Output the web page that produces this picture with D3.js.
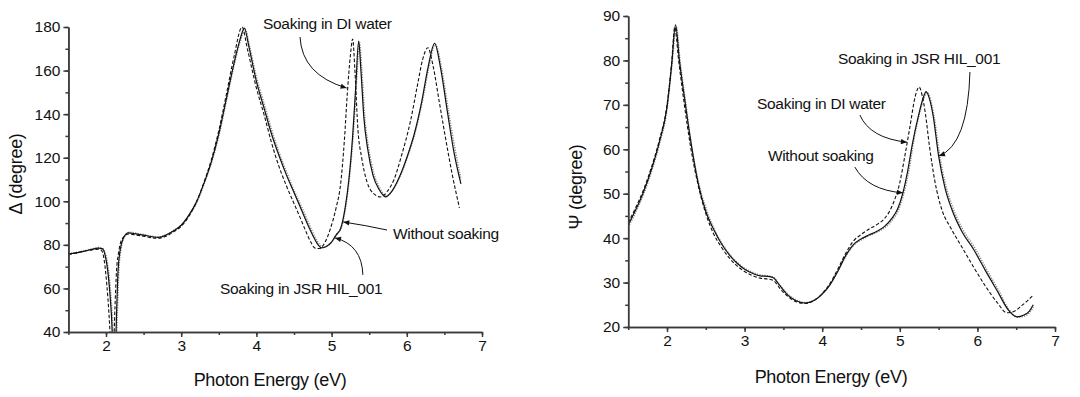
<!DOCTYPE html>
<html>
<head>
<meta charset="utf-8">
<script src="https://cdn.jsdelivr.net/npm/d3@7"></script>
<style>
  body { margin: 0; background: #fff; }
  text { font-family: Arial, "Liberation Sans", sans-serif; fill: #111; }
</style>
</head>
<body>
<svg id="chart" width="1080" height="397"></svg>
<script>
// values (photon energy in eV, angles in degree)

// left panel: delta
var dNoSoakE = [1.5, 1.6, 1.7, 1.8, 1.9, 1.95, 1.99, 2.03, 2.06, 2.08, 2.1, 2.12, 2.14, 2.16, 2.19, 2.23, 2.3, 2.4, 2.5, 2.6, 2.7, 2.8, 2.9, 3.0, 3.1, 3.2, 3.3, 3.4, 3.5, 3.6, 3.7, 3.78, 3.84, 3.9, 4.0, 4.1, 4.2, 4.3, 4.4, 4.5, 4.6, 4.7, 4.77, 4.82, 4.87, 4.93, 5.0, 5.06, 5.12, 5.18, 5.23, 5.28, 5.32, 5.36, 5.39, 5.43, 5.48, 5.55, 5.63, 5.72, 5.8, 5.9, 6.0, 6.1, 6.2, 6.28, 6.37, 6.45, 6.54, 6.63, 6.72];
var dNoSoak  = [75.8, 76.3, 77, 77.8, 78.5, 78.3, 75, 66, 54, 42, 15, 25, 48, 68, 78, 83, 85.5, 85, 84.5, 83.8, 83.4, 84.5, 86.5, 89, 93.5, 99.5, 108, 118, 131, 147, 163, 174, 179.5, 171, 155, 143, 131, 121, 112, 104, 96, 88, 83, 80, 78.6, 79.2, 81.3, 84.5, 87.5, 97, 110, 130, 152, 173.5, 160, 138, 124, 112, 105.5, 102, 104.5, 111, 120, 131, 146, 161, 172.5, 161, 141, 122, 108];

var dWaterE = [1.5, 1.6, 1.7, 1.8, 1.9, 1.94, 1.98, 2.01, 2.04, 2.06, 2.08, 2.1, 2.12, 2.14, 2.17, 2.21, 2.3, 2.4, 2.5, 2.6, 2.7, 2.8, 2.9, 3.0, 3.1, 3.2, 3.3, 3.4, 3.5, 3.6, 3.7, 3.81, 3.88, 4.0, 4.1, 4.2, 4.3, 4.4, 4.5, 4.6, 4.66, 4.72, 4.78, 4.84, 4.91, 4.98, 5.06, 5.12, 5.17, 5.21, 5.25, 5.28, 5.31, 5.35, 5.4, 5.47, 5.56, 5.65, 5.74, 5.83, 5.93, 6.05, 6.14, 6.21, 6.28, 6.35, 6.43, 6.5, 6.6, 6.7];
var dWater  = [75.5, 76.2, 77, 77.6, 78, 77.5, 72, 62, 48, 35, 15, 30, 52, 68, 77, 82.5, 85, 84.5, 84, 83.3, 83, 84, 86, 88.5, 93, 99.5, 108.5, 119, 132.5, 149, 166, 180, 170, 152, 140, 127, 116, 107, 99, 91, 86, 81.5, 78.5, 78.3, 81, 87, 97, 108, 128, 150, 167, 174.5, 160, 133, 120, 109, 103.5, 102, 104.5, 110, 121, 137, 153, 165, 170.5, 162, 146, 132, 113, 97];

var dJsrE = [1.5, 1.6, 1.7, 1.8, 1.9, 1.96, 2.0, 2.04, 2.07, 2.09, 2.11, 2.13, 2.15, 2.17, 2.2, 2.24, 2.31, 2.4, 2.5, 2.6, 2.7, 2.8, 2.9, 3.0, 3.1, 3.2, 3.3, 3.4, 3.5, 3.6, 3.7, 3.79, 3.85, 3.91, 4.0, 4.1, 4.2, 4.3, 4.4, 4.5, 4.6, 4.7, 4.78, 4.83, 4.88, 4.94, 5.01, 5.07, 5.13, 5.19, 5.24, 5.29, 5.33, 5.37, 5.4, 5.44, 5.49, 5.56, 5.64, 5.73, 5.81, 5.91, 6.01, 6.11, 6.21, 6.29, 6.38, 6.46, 6.55, 6.64, 6.72];
var dJsr  = [76, 76.5, 77.2, 78, 78.8, 78.2, 75, 66, 54, 42, 15, 25, 48, 68, 78, 83.5, 85.8, 85.3, 84.7, 84, 83.6, 84.6, 86.6, 89, 93.3, 99, 107.5, 117.5, 130, 146, 162, 174, 179, 171, 157, 145, 133, 122.5, 113.5, 105, 97.5, 89.5, 83.5, 80.5, 79, 79.6, 81.8, 85, 88, 98, 112, 132, 154, 173, 161, 139, 125, 113, 106, 102.5, 105, 111.5, 120.5, 131.5, 146.5, 161, 172, 161.5, 142, 124, 110];

// right panel: psi
var pNoSoakE = [1.5, 1.6, 1.7, 1.8, 1.9, 2.0, 2.06, 2.11, 2.16, 2.23, 2.3, 2.4, 2.5, 2.6, 2.7, 2.8, 2.9, 3.0, 3.1, 3.2, 3.3, 3.37, 3.45, 3.55, 3.65, 3.78, 3.9, 4.0, 4.1, 4.2, 4.3, 4.4, 4.5, 4.6, 4.7, 4.8, 4.9, 4.97, 5.04, 5.1, 5.16, 5.24, 5.3, 5.34, 5.38, 5.43, 5.5, 5.58, 5.67, 5.8, 5.95, 6.1, 6.26, 6.4, 6.51, 6.6, 6.67, 6.72];
var pNoSoak  = [43, 46.5, 50.5, 55.5, 61.5, 69.5, 79, 88, 80, 71, 62.5, 52.5, 46, 42, 38.8, 36.3, 34.4, 33, 32.1, 31.5, 31.4, 31.1, 29.4, 27.3, 26, 25.4, 26, 27.4, 29.5, 32.5, 36, 38.5, 39.8, 40.7, 41.5, 42.6, 44.5, 46.5, 50.2, 55, 61, 67.5, 71.5, 73, 71.5, 67.5, 58.5, 51.5, 46.5, 41.5, 37.5, 32.8, 28, 23.8, 22.3, 22.7, 23.6, 25];

var pWaterE = [1.5, 1.6, 1.7, 1.8, 1.9, 2.0, 2.06, 2.1, 2.15, 2.22, 2.3, 2.4, 2.5, 2.6, 2.7, 2.8, 2.9, 3.0, 3.1, 3.2, 3.3, 3.37, 3.45, 3.55, 3.65, 3.78, 3.9, 4.0, 4.1, 4.2, 4.3, 4.4, 4.5, 4.6, 4.7, 4.78, 4.86, 4.93, 5.0, 5.06, 5.13, 5.2, 5.25, 5.29, 5.33, 5.38, 5.45, 5.55, 5.65, 5.8, 5.95, 6.1, 6.26, 6.38, 6.47, 6.57, 6.65, 6.72];
var pWater  = [43.5, 47, 51, 56, 62, 70, 79.5, 87.5, 80, 70.5, 61, 52, 45.5, 41, 38, 35.6, 33.8, 32.5, 31.6, 31, 30.8, 30.5, 28.8, 27, 25.8, 25.3, 26, 27.5, 29.8, 33, 36.5, 39.3, 40.8, 42, 43, 44, 45.8, 48.5, 52.5, 58, 65, 72, 74, 72, 68, 61, 53, 46, 42.5, 38, 33.5, 29.3, 25.4, 23.2, 23.5, 24.8, 26, 27.2];

var pJsrE = [1.5, 1.6, 1.7, 1.8, 1.9, 2.0, 2.06, 2.12, 2.17, 2.24, 2.31, 2.4, 2.5, 2.6, 2.7, 2.8, 2.9, 3.0, 3.1, 3.2, 3.3, 3.37, 3.45, 3.55, 3.65, 3.78, 3.9, 4.0, 4.1, 4.2, 4.3, 4.4, 4.5, 4.6, 4.7, 4.8, 4.9, 4.98, 5.05, 5.12, 5.18, 5.25, 5.31, 5.35, 5.39, 5.44, 5.51, 5.59, 5.68, 5.81, 5.96, 6.11, 6.27, 6.41, 6.52, 6.61, 6.67, 6.72];
var pJsr  = [42.5, 46, 50, 55, 61, 69, 78.5, 87.5, 79.5, 70.5, 61.5, 53, 46.8, 42.3, 39, 36.5, 34.6, 33.2, 32.3, 31.7, 31.5, 31.2, 29.5, 27.5, 26.2, 25.5, 26.1, 27.5, 29.6, 32.6, 35.8, 38.3, 39.6, 40.5, 41.3, 42.3, 44, 46.2, 50, 55.5, 62, 67.8, 71.5, 72.8, 71.5, 67.5, 59, 52, 47, 42, 38, 33.2, 28.3, 23.8, 22.2, 22.5, 23.2, 24.5];

var xTicks = [2, 3, 4, 5, 6, 7];
var dTicks = [40, 60, 80, 100, 120, 140, 160, 180];
var pTicks = [20, 30, 40, 50, 60, 70, 80, 90];

var svg = d3.select('#chart');

// arrow head
svg.append('defs').append('marker')
  .attr('id', 'head')
  .attr('viewBox', '0 -4 8 8')
  .attr('refX', 8).attr('refY', 0)
  .attr('markerWidth', 7).attr('markerHeight', 6)
  .attr('markerUnits', 'userSpaceOnUse')
  .attr('orient', 'auto')
  .append('path').attr('d', 'M0,-3.5L8,0L0,3.5Z').attr('fill', '#111');

var styles = {
  noSoak: { stroke: '#111', width: 1.2, dash: null },
  water:  { stroke: '#111', width: 1.1, dash: '3.5,2' },
  jsr:    { stroke: '#8a8a8a', width: 1.6, dash: '1.2,1.3' }
};

function zip(xs, ys) {
  return xs.map(function(x, i) { return [x, ys[i]]; });
}

function drawPanel(p) {
  var x = d3.scaleLinear().domain([1.5, 7]).range([p.left, p.right]);
  var y = d3.scaleLinear().domain(p.yDomain).range([p.bottom, p.top]);
  var g = svg.append('g');

  g.append('clipPath').attr('id', p.id + '-clip')
    .append('rect')
    .attr('x', p.left).attr('y', 0)
    .attr('width', p.right - p.left + 10).attr('height', p.bottom);

  var line = d3.line()
    .x(function(d) { return x(d[0]); })
    .y(function(d) { return y(d[1]); })
    .curve(d3.curveMonotoneX);

  var curves = g.append('g').attr('clip-path', 'url(#' + p.id + '-clip)');
  p.series.forEach(function(s) {
    var st = styles[s.key];
    curves.append('path')
      .datum(zip(s.e, s.v))
      .attr('d', line)
      .attr('fill', 'none')
      .attr('stroke', st.stroke)
      .attr('stroke-width', st.width)
      .attr('stroke-dasharray', st.dash)
      .attr('stroke-linejoin', 'round');
  });

  // minor ticks first, majors on top
  var halfX = d3.range(1.5, 7.01, 0.5);
  var halfY = d3.range(p.yDomain[0], p.yDomain[1] + 0.01, p.minorStep);

  g.append('g').attr('class', 'ax')
    .attr('transform', 'translate(0,' + p.bottom + ')')
    .call(d3.axisBottom(x).tickValues(halfX).tickSize(3).tickSizeOuter(0).tickFormat(''));
  g.append('g').attr('class', 'ax')
    .attr('transform', 'translate(' + p.left + ',0)')
    .call(d3.axisLeft(y).tickValues(halfY).tickSize(3).tickSizeOuter(0).tickFormat(''));

  g.append('g').attr('class', 'ax major')
    .attr('transform', 'translate(0,' + p.bottom + ')')
    .call(d3.axisBottom(x).tickValues(xTicks).tickFormat(d3.format('d'))
      .tickSize(5).tickSizeOuter(0).tickPadding(3));
  g.append('g').attr('class', 'ax major')
    .attr('transform', 'translate(' + p.left + ',0)')
    .call(d3.axisLeft(y).tickValues(p.yTicks).tickFormat(d3.format('d'))
      .tickSize(5).tickSizeOuter(0).tickPadding(3));

  g.selectAll('.ax path, .ax line').attr('stroke', '#3a3a3a').attr('stroke-width', 1.5);
  g.selectAll('.ax text')
    .attr('font-size', 15.5)
    .attr('font-family', 'Arial, "Liberation Sans", sans-serif')
    .attr('fill', '#111');

  // axis titles
  g.append('text')
    .attr('x', p.xTitle[0]).attr('y', p.xTitle[1])
    .attr('text-anchor', 'middle')
    .attr('font-size', 18)
    .attr('letter-spacing', -0.3)
    .text('Photon Energy (eV)');
  g.append('text')
    .attr('transform', 'translate(' + p.yTitle[0] + ',' + p.yTitle[1] + ') rotate(-90)')
    .attr('text-anchor', 'middle')
    .attr('font-size', 18)
    .attr('letter-spacing', -0.3)
    .text(p.yLabel);

  // labels with arrows, placed in data units
  p.notes.forEach(function(n) {
    g.append('text')
      .attr('x', x(n.at[0])).attr('y', y(n.at[1]))
      .attr('font-size', 15.5)
      .attr('letter-spacing', -0.3)
      .text(n.label);
    var path = d3.path();
    path.moveTo(x(n.from[0]), y(n.from[1]));
    path.quadraticCurveTo(x(n.ctrl[0]), y(n.ctrl[1]), x(n.tip[0]), y(n.tip[1]));
    g.append('path')
      .attr('d', path.toString())
      .attr('fill', 'none')
      .attr('stroke', '#111')
      .attr('stroke-width', 1)
      .attr('marker-end', 'url(#head)');
  });
}

drawPanel({
  id: 'delta',
  left: 68.4, right: 482, top: 27, bottom: 332,
  yDomain: [40, 180], yTicks: dTicks, minorStep: 10,
  yLabel: '\u0394 (degree)',
  xTitle: [270, 386], yTitle: [22, 174],
  series: [
    { key: 'jsr', e: dJsrE, v: dJsr },
    { key: 'water', e: dWaterE, v: dWater },
    { key: 'noSoak', e: dNoSoakE, v: dNoSoak }
  ],
  notes: [
    { label: 'Soaking in DI water', at: [4.088, 179.1], from: [4.58, 175.4], ctrl: [4.606, 158], tip: [5.2, 152] },
    { label: 'Without soaking', at: [5.817, 82.7], from: [5.737, 86.8], ctrl: [5.45, 89], tip: [5.155, 90.5] },
    { label: 'Soaking in JSR HIL_001', at: [3.516, 57.5], from: [5.416, 66.2], ctrl: [5.404, 80], tip: [5.045, 83.2] }
  ]
});

drawPanel({
  id: 'psi',
  left: 628.2, right: 1055, top: 16, bottom: 327,
  yDomain: [20, 90], yTicks: pTicks, minorStep: 5,
  yLabel: '\u03a8 (degree)',
  xTitle: [831, 383], yTitle: [582, 187],
  series: [
    { key: 'jsr', e: pJsrE, v: pJsr },
    { key: 'water', e: pWaterE, v: pWater },
    { key: 'noSoak', e: pNoSoakE, v: pNoSoak }
  ],
  notes: [
    { label: 'Soaking in JSR HIL_001', at: [4.204, 79.2], from: [5.904, 77.4], ctrl: [5.878, 61], tip: [5.505, 58.5] },
    { label: 'Soaking in DI water', at: [3.16, 69.1], from: [4.486, 67.7], ctrl: [4.615, 62.5], tip: [5.092, 61.6] },
    { label: 'Without soaking', at: [3.30, 57.4], from: [4.42, 56], ctrl: [4.588, 50.8], tip: [5.04, 50.2] }
  ]
});
</script>
</body>
</html>
